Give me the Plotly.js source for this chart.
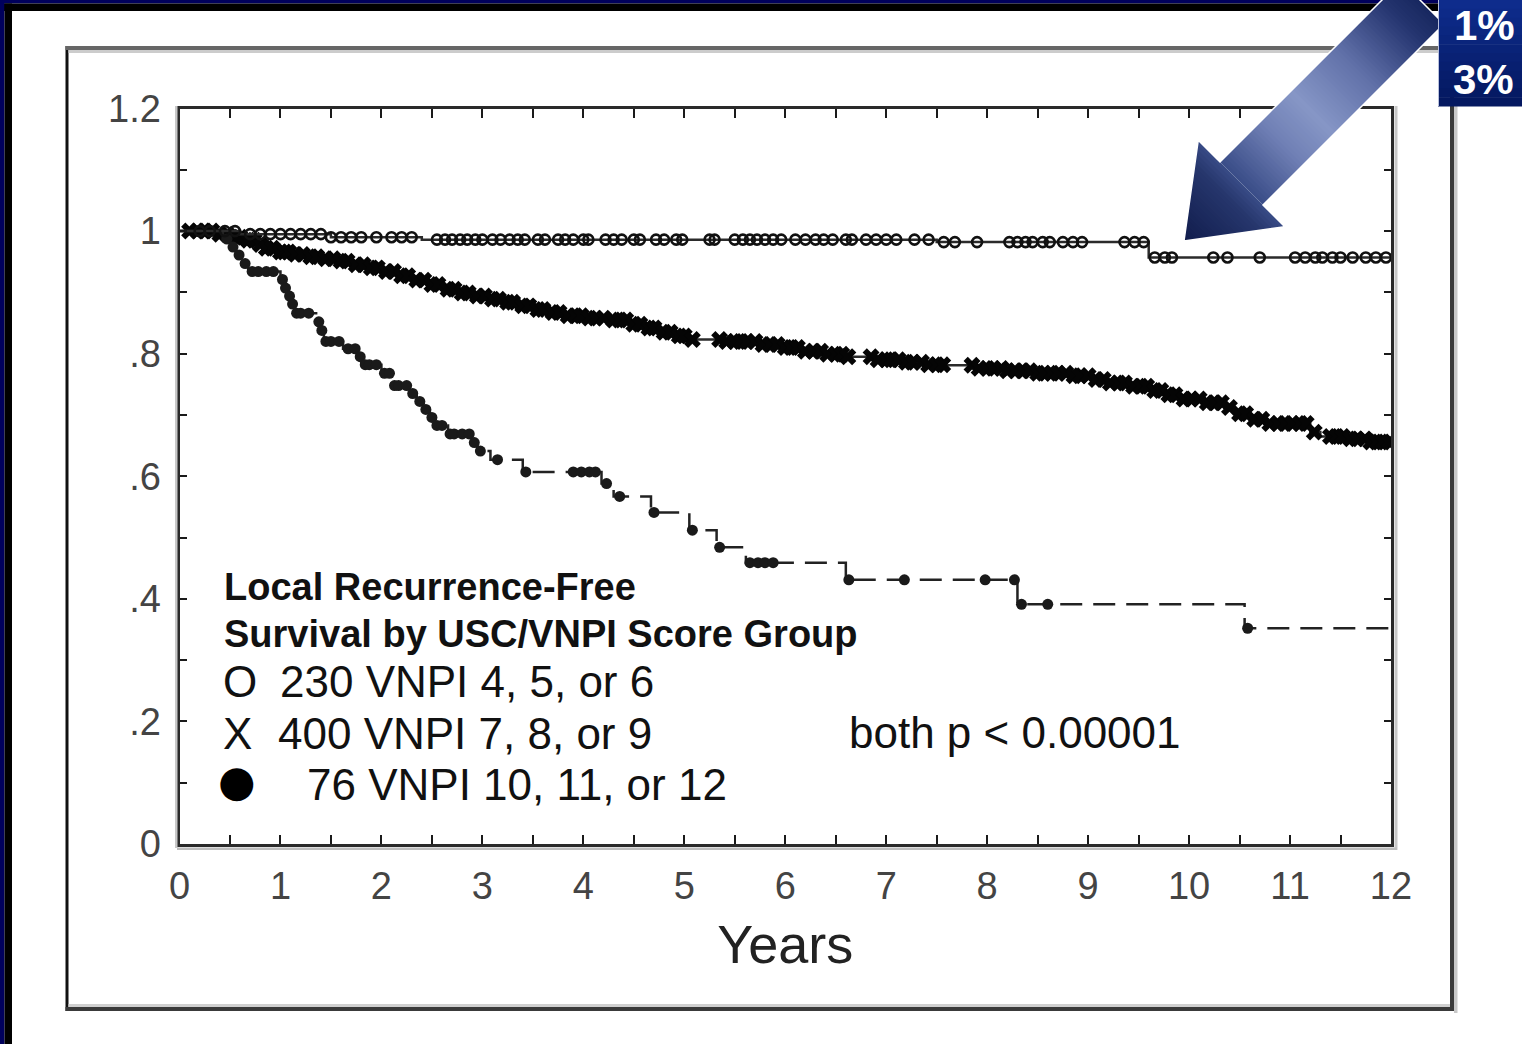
<!DOCTYPE html>
<html><head><meta charset="utf-8">
<script src="https://cdn.plot.ly/plotly-3.0.1.min.js"></script>
<style>html,body{margin:0;padding:0;background:#fff;overflow:hidden}#chart{width:1522px;height:1044px}</style>
</head><body><div id="chart"></div>
<script>
// ---------------- DATA ----------------
// Group O: 230 VNPI 4, 5, or 6  (step times / survival)
const oTimes = [0, 0.6, 1.5, 2.4, 7.5, 9.6, 12];
const oSurv  = [1.0, 0.995, 0.99, 0.986, 0.982, 0.957, 0.957];
const oCensor = [0.2, 0.3, 0.45, 0.55, 0.7, 0.8, 0.9, 1.0, 1.1, 1.2, 1.3, 1.4, 1.5, 1.6, 1.7, 1.8, 1.95, 2.1, 2.2, 2.3,
  2.55, 2.63, 2.7, 2.78, 2.85, 2.93, 3.0, 3.1, 3.18, 3.27, 3.35, 3.42, 3.55, 3.62, 3.75, 3.82, 3.9, 4.0, 4.05,
  4.22, 4.3, 4.38, 4.5, 4.56, 4.72, 4.8, 4.92, 4.98, 5.25, 5.3,
  5.5, 5.58, 5.65, 5.72, 5.8, 5.88, 5.96, 6.1, 6.2, 6.3, 6.38, 6.47, 6.6, 6.66,
  6.8, 6.9, 7.0, 7.1, 7.28, 7.42, 7.57, 7.68, 7.9,
  8.22, 8.3, 8.38, 8.45, 8.55, 8.62, 8.75, 8.85, 8.94, 9.36, 9.46, 9.55,
  9.66, 9.76, 9.83, 10.24, 10.38, 10.7, 11.05, 11.15, 11.25, 11.32, 11.42, 11.5, 11.62, 11.75, 11.85, 11.95];

// Group X: 400 VNPI 7, 8, or 9
const xTimes = [0, 0.35, 0.5, 0.62, 0.75, 0.85, 0.95, 1.1, 1.25, 1.4, 1.55, 1.7, 1.85, 2.0, 2.15, 2.3, 2.45, 2.6, 2.75, 2.9,
  3.05, 3.2, 3.35, 3.5, 3.65, 3.8, 4.0, 4.25, 4.45, 4.6, 4.75, 4.9, 5.05, 5.4, 5.75, 5.95, 6.15, 6.4, 6.6, 6.9,
  7.15, 7.4, 7.6, 7.9, 8.2, 8.5, 8.8, 9.05, 9.2, 9.4, 9.6, 9.75, 9.9, 10.15, 10.35, 10.45, 10.6, 10.75, 11.2, 11.3, 11.55, 11.8, 12];
const xSurv = [1.0, 0.995, 0.99, 0.985, 0.978, 0.972, 0.966, 0.962, 0.958, 0.955, 0.951, 0.945, 0.94, 0.934, 0.927, 0.92, 0.913, 0.905, 0.899, 0.894,
  0.889, 0.884, 0.878, 0.872, 0.867, 0.862, 0.858, 0.855, 0.848, 0.842, 0.835, 0.829, 0.823, 0.82, 0.815, 0.81, 0.804, 0.799, 0.795, 0.79,
  0.786, 0.782, 0.781, 0.776, 0.772, 0.768, 0.764, 0.758, 0.752, 0.747, 0.74, 0.733, 0.726, 0.72, 0.712, 0.702, 0.693, 0.686, 0.672, 0.665, 0.661, 0.656, 0.656];
const xCensor = [0.1, 0.18, 0.25, 0.32, 0.4, 0.47, 0.55, 0.6, 0.68, 0.74, 0.8, 0.86, 0.92, 1.0, 1.04, 1.08, 1.15, 1.22, 1.3, 1.36, 1.45, 1.52, 1.6, 1.66, 1.75, 1.82, 1.9, 1.96,
  2.05, 2.12, 2.2, 2.26, 2.35, 2.42, 2.5, 2.56, 2.66, 2.72, 2.8, 2.86, 2.95, 3.02, 3.1, 3.16, 3.25, 3.3, 3.4, 3.46,
  3.55, 3.6, 3.7, 3.76, 3.85, 3.92, 3.98, 4.06, 4.12, 4.2, 4.3, 4.36, 4.42, 4.5, 4.56, 4.65, 4.7, 4.8, 4.86, 4.95,
  5.0, 5.08, 5.35, 5.42, 5.5, 5.56, 5.62, 5.7, 5.78, 5.85, 5.92, 6.0, 6.06, 6.12, 6.2, 6.28, 6.35, 6.42, 6.5, 6.56, 6.62,
  6.85, 6.92, 7.0, 7.05, 7.12, 7.2, 7.26, 7.35, 7.42, 7.5, 7.56, 7.85, 7.92, 8.0, 8.06, 8.14, 8.2, 8.28, 8.35, 8.42,
  8.5, 8.56, 8.64, 8.7, 8.78, 8.86, 8.92, 9.0, 9.08, 9.15, 9.22, 9.3, 9.36, 9.45, 9.52, 9.58, 9.66, 9.72, 9.8, 9.86,
  9.95, 10.02, 10.1, 10.18, 10.25, 10.32, 10.4, 10.5, 10.56, 10.65, 10.72, 10.8, 10.88, 10.95, 11.02, 11.1, 11.16, 11.24,
  11.4, 11.46, 11.52, 11.6, 11.66, 11.74, 11.8, 11.86, 11.92, 11.98];

// Group ●: 76 VNPI 10, 11, or 12
const dTimes = [0, 0.43, 0.5, 0.56, 0.62, 0.68, 1.0, 1.03, 1.07, 1.1, 1.13, 1.37, 1.4, 1.43, 1.62, 1.77, 1.8, 2.0, 2.1, 2.28, 2.35,
  2.42, 2.48, 2.52, 2.66, 2.9, 2.95, 3.08, 3.4, 4.18, 4.3, 4.67, 5.05, 5.32, 5.61, 6.6, 8.3, 10.55, 12];
const dSurv = [1.0, 0.987, 0.974, 0.961, 0.947, 0.934, 0.921, 0.907, 0.894, 0.881, 0.866, 0.852, 0.838, 0.82, 0.808, 0.795, 0.782, 0.768, 0.748, 0.735, 0.722,
  0.709, 0.696, 0.683, 0.669, 0.655, 0.641, 0.627, 0.607, 0.588, 0.567, 0.541, 0.512, 0.484, 0.459, 0.431, 0.391, 0.352, 0.352];
const dCensor = [0.47, 0.53, 0.59, 0.65, 0.72, 0.78, 0.86, 0.93, 1.02, 1.05, 1.09, 1.12, 1.16, 1.2, 1.28, 1.38, 1.41, 1.45, 1.5, 1.58,
  1.67, 1.74, 1.79, 1.84, 1.88, 1.95, 2.03, 2.08, 2.13, 2.17, 2.25, 2.31, 2.38, 2.44, 2.5, 2.55, 2.6, 2.68, 2.72, 2.8, 2.87,
  2.92, 2.98, 3.15, 3.43, 3.9, 3.98, 4.06, 4.12, 4.23, 4.36, 4.7, 5.08, 5.35, 5.65, 5.73, 5.8, 5.88, 6.63, 7.18, 7.98, 8.27,
  8.34, 8.6, 10.58];

// Axis ticks
const xTickVals = [0,0.5,1,1.5,2,2.5,3,3.5,4,4.5,5,5.5,6,6.5,7,7.5,8,8.5,9,9.5,10,10.5,11,11.5,12];
const xTickText = ['0','','1','','2','','3','','4','','5','','6','','7','','8','','9','','10','','11','','12'];
const yTickVals = [0,0.1,0.2,0.3,0.4,0.5,0.6,0.7,0.8,0.9,1.0,1.1,1.2];
const yTickText = ['0','','.2','','.4','','.6','','.8','','1','','1.2'];

const legendTitle = ['Local Recurrence-Free', 'Survival by USC/VNPI Score Group'];
const groupSymbols = ['O', 'X', '●'];
const groupLabels = ['230 VNPI 4, 5, or 6', '400 VNPI 7, 8, or 9', '76 VNPI 10, 11, or 12'];
const pText = 'both p &lt; 0.00001';
const calloutText = ['1%', '3%'];

// ---------------- HELPERS ----------------
const W = 1522, H = 1044;
const PX = v => v / W;
const PY = v => 1 - v / H;
function survAt(times, vals, t) {
  let s = vals[0];
  for (let i = 0; i < times.length; i++) { if (times[i] <= t) s = vals[i]; else break; }
  return s;
}
const sans = "'Liberation Sans', Arial, Helvetica, sans-serif";

// ---------------- TRACES ----------------
const traces = [
  {x: xTimes, y: xSurv, mode: 'lines', line: {shape: 'hv', color: '#2b2b2b', width: 2.5}, hoverinfo: 'skip'},
  {x: xCensor, y: xCensor.map(t => survAt(xTimes, xSurv, t)), mode: 'markers',
   marker: {symbol: 'x', size: 15, color: '#050505', line: {width: 0}}, hoverinfo: 'skip'},
  {x: dTimes, y: dSurv, mode: 'lines', line: {shape: 'hv', color: '#222', width: 2.5, dash: '22px,11px'}, hoverinfo: 'skip'},
  {x: dCensor, y: dCensor.map(t => survAt(dTimes, dSurv, t)), mode: 'markers',
   marker: {symbol: 'circle', size: 11, color: '#1a1a1a'}, hoverinfo: 'skip'},
  {x: oTimes, y: oSurv, mode: 'lines', line: {shape: 'hv', color: '#2b2b2b', width: 2.5}, hoverinfo: 'skip'},
  {x: oCensor, y: oCensor.map(t => survAt(oTimes, oSurv, t)), mode: 'markers',
   marker: {symbol: 'circle-open', size: 10, color: '#111', line: {width: 2.6, color: '#111'}}, hoverinfo: 'skip'}
];

// ---------------- DECORATION SHAPES ----------------
const shapes = [];
function rectPx(x0, y0, x1, y1, color) {
  shapes.push({type: 'rect', xref: 'paper', yref: 'paper', x0: PX(x0), x1: PX(x1), y0: PY(y1), y1: PY(y0),
    fillcolor: color, line: {width: 0}, layer: 'above'});
}
// page frame
rectPx(0, 0, W, 3.5, '#00005c');
rectPx(0, 3.5, W, 11, '#000000');
rectPx(0, 0, 4.5, H, '#00005c');
rectPx(4.5, 3.5, 12, H, '#000000');
// inner box
rectPx(65.5, 46, 68.5, 1011, '#111111');
rectPx(65.5, 46, 1454, 50, '#666666');
rectPx(68.5, 50, 1450, 53, '#cccccc');
rectPx(1450, 46, 1454, 1011, '#3a3a3a');
rectPx(1454, 50, 1457.5, 1013, '#c8c8c8');
rectPx(68.5, 1004, 1450, 1007, '#d0d0d0');
rectPx(65.5, 1007, 1454, 1011, '#3a3a3a');
// soft shadows of the plot frame
rectPx(175, 106, 177.5, 848, '#c8c8c8');
rectPx(1394.5, 106, 1397.5, 850, '#c8c8c8');
rectPx(177, 847.5, 1397, 850, '#bdbdbd');

// gradient arrow (u = x - y along its axis, v = x + y across it)
const A = {tipU: 943, headU: 1058, backU: 1420, v0: 1425, headHW: 86.5, shaftHW: 43};
const arrowStops = [[943, [16, 28, 76]], [1030, [38, 54, 108]], [1060, [58, 77, 136]], [1140, [112, 128, 181]],
  [1200, [134, 150, 198]], [1290, [96, 112, 168]], [1380, [37, 53, 112]], [1420, [23, 39, 95]]];
function arrowColor(u) {
  for (let i = 1; i < arrowStops.length; i++) {
    if (u <= arrowStops[i][0]) {
      const [ua, ca] = arrowStops[i - 1], [ub, cb] = arrowStops[i];
      const f = (u - ua) / (ub - ua);
      return 'rgb(' + ca.map((c, k) => Math.round(c + (cb[k] - c) * f)).join(',') + ')';
    }
  }
  return 'rgb(23,39,95)';
}
function uvPath(pts) {
  return pts.map((p, i) => (i ? 'L' : 'M') + PX((p[0] + p[1]) / 2).toFixed(5) + ',' + PY((p[1] - p[0]) / 2).toFixed(5)).join(' ') + ' Z';
}
const cuts = [];
for (let u = A.tipU; u < A.backU; u += 5) cuts.push(u);
if (!cuts.includes(A.headU)) cuts.push(A.headU);
cuts.push(A.backU);
cuts.sort((a, b) => a - b);
for (let i = 0; i < cuts.length - 1; i++) {
  const u0 = cuts[i], u1 = Math.min(cuts[i + 1] + 0.9, A.backU);
  const inHead = cuts[i + 1] <= A.headU;
  const hw0 = inHead ? A.headHW * (u0 - A.tipU) / (A.headU - A.tipU) : A.shaftHW;
  const hw1 = inHead ? A.headHW * (Math.min(u1, A.headU) - A.tipU) / (A.headU - A.tipU) : A.shaftHW;
  const u1c = inHead ? Math.min(u1, A.headU) : u1;
  shapes.push({type: 'path', xref: 'paper', yref: 'paper', layer: 'above',
    path: uvPath([[u0, A.v0 - hw0], [u1c, A.v0 - hw1], [u1c, A.v0 + hw1], [u0, A.v0 + hw0]]),
    fillcolor: arrowColor((u0 + u1) / 2), line: {width: 0}});
}
shapes.push({type: 'path', xref: 'paper', yref: 'paper', layer: 'above',
  path: uvPath([[A.tipU, A.v0], [A.headU, A.v0 - A.headHW], [A.headU, A.v0 - A.shaftHW], [A.backU, A.v0 - A.shaftHW],
    [A.backU, A.v0 + A.shaftHW], [A.headU, A.v0 + A.shaftHW], [A.headU, A.v0 + A.headHW]]),
  fillcolor: 'rgba(0,0,0,0)', line: {width: 1.5, color: '#ffffff'}});
// callout box
const boxStops = [[14, 44, 140], [4, 24, 96]];
for (let i = 0; i < 12; i++) {
  const f = i / 11;
  const c = boxStops[0].map((v, k) => Math.round(v + (boxStops[1][k] - v) * f));
  rectPx(1438, i * 106 / 12, W + 2, (i + 1) * 106 / 12 + 0.6, 'rgb(' + c.join(',') + ')');
}
shapes.push({type: 'line', xref: 'paper', yref: 'paper', layer: 'above', x0: PX(1438.5), x1: PX(1438.5), y0: PY(0), y1: PY(106),
  line: {color: '#b8c0dc', width: 1}});

// ---------------- ANNOTATIONS ----------------
function ann(x, y, text, size, opts = {}) {
  return Object.assign({xref: 'paper', yref: 'paper', x: PX(x), y: PY(y), text: text, showarrow: false,
    xanchor: 'left', yanchor: 'middle', font: {family: sans, size: size, color: '#111'}}, opts);
}
const annotations = [
  ann(222, 586.5, '<b>' + legendTitle[0] + '</b>', 38),
  ann(222, 633.5, '<b>' + legendTitle[1] + '</b>', 38),
  ann(221, 681.5, groupSymbols[0], 44),
  ann(278, 681.5, groupLabels[0], 44),
  ann(221, 733.5, groupSymbols[1], 44),
  ann(276, 733.5, groupLabels[1], 44),
  ann(216, 781, groupSymbols[2], 43, {font: {family: "'DejaVu Sans', sans-serif", size: 43, color: '#000'}}),
  ann(305, 784.5, groupLabels[2], 44),
  ann(847, 732.5, pText, 44),
  ann(1452, 26, '<b>' + calloutText[0] + '</b>', 42, {font: {family: sans, size: 42, color: '#ffffff'}}),
  ann(1451, 80, '<b>' + calloutText[1] + '</b>', 42, {font: {family: sans, size: 42, color: '#ffffff'}})
];

// ---------------- LAYOUT ----------------
const axisCommon = {showline: true, linecolor: '#2a2a2a', linewidth: 3, mirror: 'allticks', ticks: 'inside',
  tickwidth: 2, tickcolor: '#1a1a1a', showgrid: false, zeroline: false, fixedrange: true,
  tickfont: {family: sans, size: 38, color: '#444444'}};
const layout = {
  width: W, height: H, margin: {l: 0, r: 0, t: 0, b: 0, autoexpand: false},
  paper_bgcolor: '#ffffff', plot_bgcolor: 'rgba(0,0,0,0)', showlegend: false,
  xaxis: Object.assign({}, axisCommon, {domain: [PX(179.5), PX(1391)], range: [0, 12], tickmode: 'array',
    tickvals: xTickVals, ticktext: xTickText, ticklen: 9, automargin: false, ticklabelstandoff: 6,
    title: {text: 'Years', font: {family: sans, size: 54, color: '#222'}, standoff: 20}}),
  yaxis: Object.assign({}, axisCommon, {domain: [PY(844), PY(108.5)], range: [0, 1.2], tickmode: 'array',
    tickvals: yTickVals, ticktext: yTickText, ticklen: 7, automargin: false, ticklabelstandoff: 8}),
  shapes: shapes,
  annotations: annotations
};
Plotly.newPlot('chart', traces, layout, {staticPlot: true, displayModeBar: false});
</script></body></html>
